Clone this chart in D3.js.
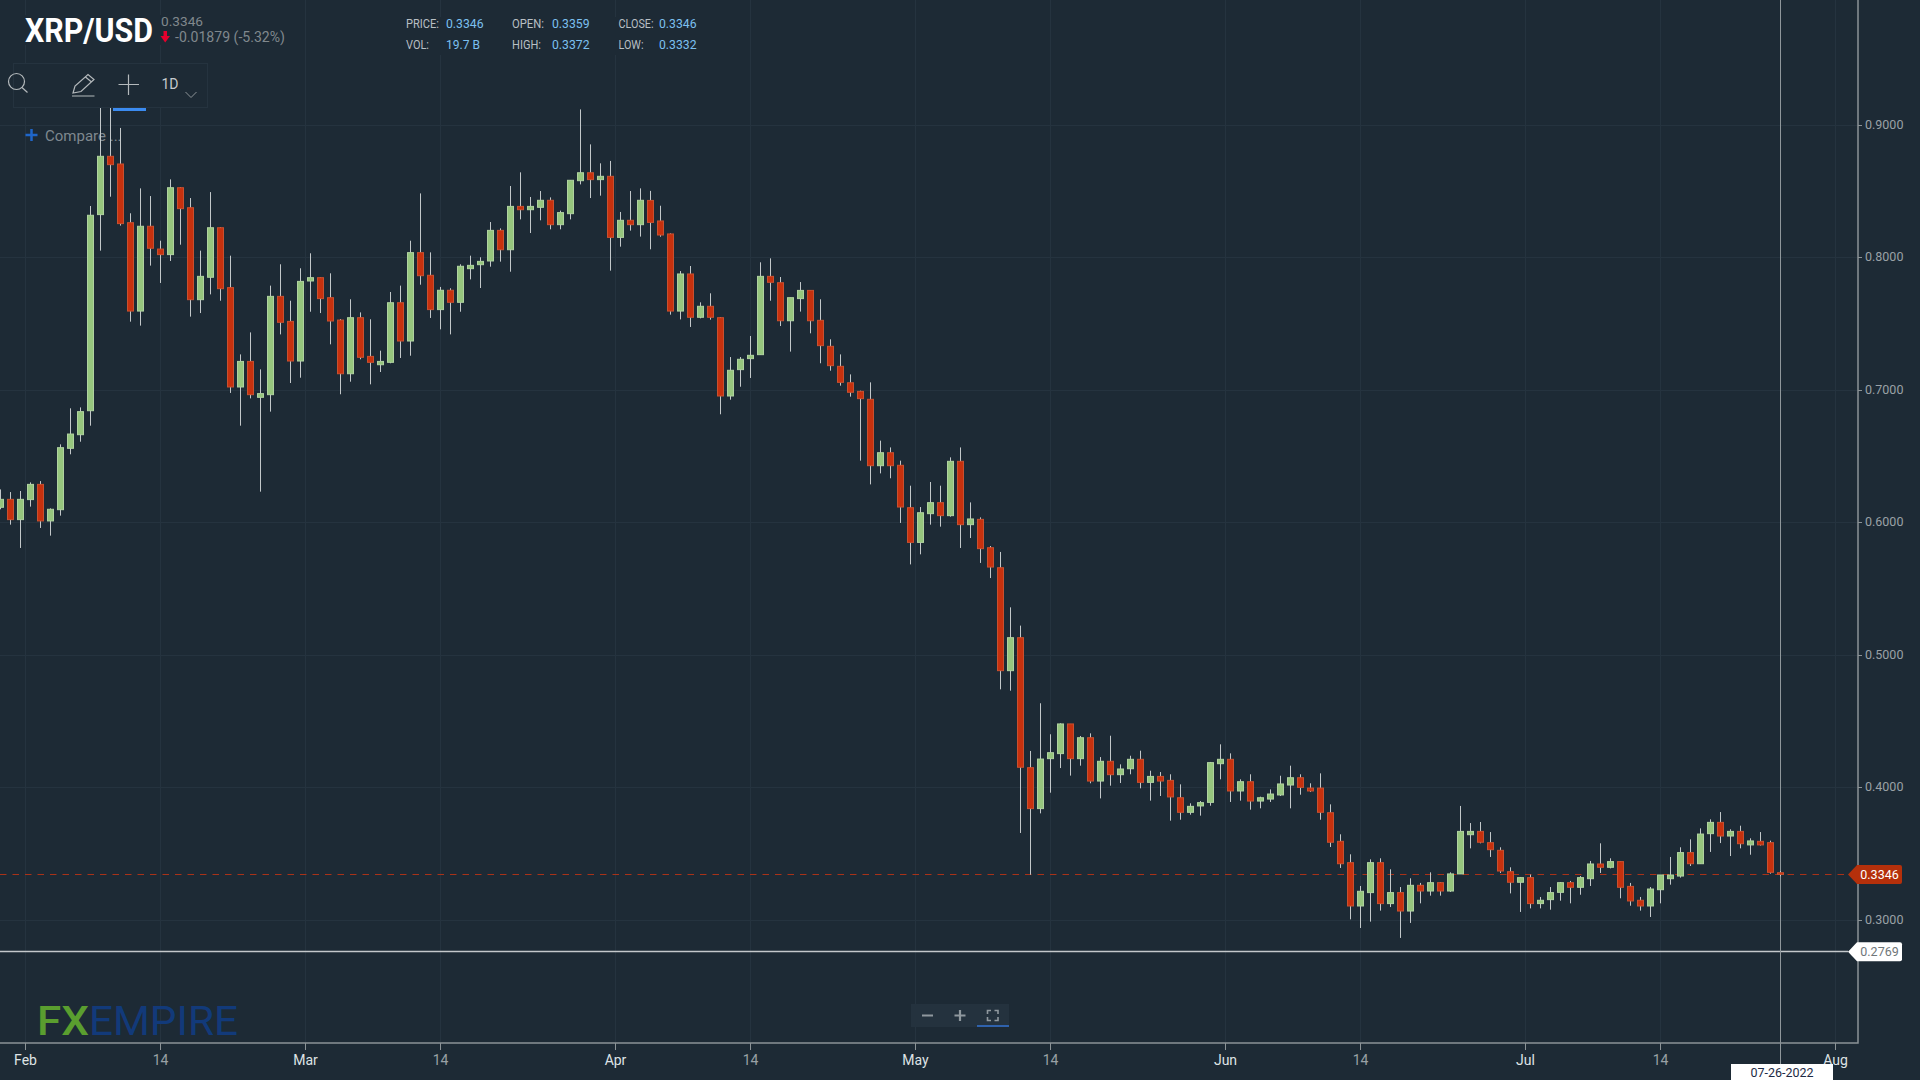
<!DOCTYPE html>
<html>
<head>
<meta charset="utf-8">
<title>XRP/USD</title>
<script src="https://cdn.jsdelivr.net/npm/d3@7"></script>
<style>
    html, body { margin: 0; padding: 0; background: #1d2a35; overflow: hidden; }
    text { font-family: Roboto, sans-serif; }
</style>
</head>
<body>
<div class="chart"></div>
<script>
// one candle a day, starting here
var firstDay = "2022-01-29";

var opens = [
    .6117,.6177,.6024,.6175,.6290,.6014,.6099,.6562,.6665,.6846,
    .8326,.8766,.8708,.8265,.7598,.8238,.8066,.8024,.8529,.8378,
    .7684,.7853,.8227,.7775,.7025,.7218,.6947,.6967,.7709,.7520,
    .7221,.7825,.7850,.7699,.7530,.7125,.7548,.7256,.7193,.7211,
    .7661,.7372,.8039,.7868,.7609,.7755,.7664,.7918,.7948,.7976,
    .8207,.8061,.8388,.8363,.8381,.8434,.8250,.8333,.8582,.8642,
    .8590,.8615,.8154,.8283,.8250,.8433,.8278,.8180,.7598,.7878,
    .7551,.7634,.7548,.6957,.7156,.7239,.7269,.7860,.7812,.7525,
    .7692,.7754,.7528,.7332,.7181,.7057,.6992,.6932,.6431,.6529,
    .6434,.6114,.5852,.6069,.6152,.6054,.6464,.5986,.6026,.5812,
    .5661,.4884,.5133,.4152,.3843,.4220,.4258,.4482,.4220,.4378,
    .4051,.4200,.4099,.4144,.4215,.4041,.4086,.4056,.3925,.3815,
    .3863,.3890,.4182,.4215,.3976,.4046,.3900,.3915,.3946,.4021,
    .4076,.3998,.3998,.3812,.3596,.3435,.3108,.3209,.3435,.3126,
    .3209,.3070,.3264,.3221,.3284,.3221,.3350,.3646,.3671,.3586,
    .3528,.3367,.3287,.3322,.3126,.3156,.3211,.3284,.3249,.3314,
    .3425,.3400,.3443,.3256,.3151,.3108,.3231,.3314,.3334,.3511,
    .3427,.3654,.3739,.3636,.3671,.3569,.3596,.3586,.3359
];
var highs = [
    .6252,.6232,.6240,.6305,.6315,.6109,.6592,.6864,.6871,.8391,
    .9146,.9158,.8980,.8336,.8524,.8466,.8129,.8592,.8534,.8451,
    .8054,.8496,.8232,.8016,.7271,.7437,.7158,.7790,.7951,.7676,
    .7921,.8034,.7853,.7883,.7538,.7687,.7588,.7536,.7299,.7742,
    .7790,.8129,.8486,.8041,.7780,.7770,.7951,.8016,.8004,.8270,
    .8222,.8542,.8645,.8459,.8504,.8456,.8356,.8585,.9120,.8856,
    .8713,.8731,.8346,.8504,.8524,.8505,.8393,.8185,.7900,.7938,
    .7664,.7732,.7553,.7251,.7251,.7410,.7966,.7996,.7855,.7699,
    .7817,.7754,.7687,.7385,.7271,.7120,.6997,.7060,.6620,.6569,
    .6469,.6280,.6119,.6308,.6280,.6494,.6569,.6154,.6041,.5825,
    .5780,.5362,.5224,.4278,.4638,.4404,.4487,.4482,.4391,.4411,
    .4232,.4393,.4177,.4242,.4280,.4129,.4119,.4102,.4026,.3883,
    .3900,.4195,.4328,.4260,.4064,.4102,.3933,.3988,.4091,.4167,
    .4102,.4034,.4109,.3875,.3649,.3498,.3259,.3460,.3468,.3385,
    .3251,.3317,.3282,.3362,.3289,.3362,.3863,.3734,.3742,.3666,
    .3551,.3400,.3327,.3345,.3176,.3251,.3289,.3297,.3334,.3448,
    .3581,.3468,.3445,.3282,.3176,.3251,.3342,.3478,.3551,.3611,
    .3694,.3762,.3817,.3687,.3714,.3619,.3666,.3601,.3372
];
var lows = [
    .6102,.5986,.5810,.6122,.5961,.5903,.6054,.6517,.6612,.6733,
    .8054,.8461,.8243,.7518,.7488,.7941,.7810,.7976,.8099,.7556,
    .7583,.7724,.7676,.6980,.6733,.6939,.6235,.6839,.7422,.7055,
    .7095,.7593,.7583,.7347,.6970,.7065,.7234,.7045,.7138,.7204,
    .7244,.7261,.7797,.7546,.7460,.7422,.7593,.7837,.7772,.7933,
    .7971,.7895,.8290,.8187,.8283,.8215,.8215,.8290,.8554,.8451,
    .8469,.7903,.8084,.8205,.8160,.8064,.8159,.7571,.7535,.7478,
    .7543,.7533,.6819,.6929,.7027,.7093,.7269,.7676,.7485,.7292,
    .7594,.7430,.7204,.7148,.7035,.6952,.6469,.6290,.6373,.6336,
    .5999,.5686,.5762,.5986,.5971,.6046,.5810,.5885,.5697,.5583,
    .4743,.4733,.3659,.3344,.3807,.3963,.4149,.4092,.4167,.4034,
    .3920,.4016,.4036,.4102,.3996,.3903,.3938,.3752,.3759,.3797,
    .3790,.3865,.4064,.3893,.3903,.3835,.3845,.3893,.3938,.3845,
    .3948,.3968,.3759,.3553,.3395,.3007,.2942,.2990,.3073,.3100,
    .2867,.2980,.3128,.3186,.3186,.3214,.3350,.3543,.3581,.3478,
    .3357,.3203,.3063,.3090,.3090,.3080,.3148,.3128,.3193,.3259,
    .3357,.3392,.3166,.3110,.3073,.3025,.3128,.3269,.3322,.3410,
    .3427,.3516,.3583,.3485,.3543,.3495,.3564,.3352,.3332
];
var closes = [
    .6177,.6024,.6177,.6290,.6014,.6102,.6567,.6670,.6839,.8321,
    .8766,.8703,.8258,.7598,.8238,.8072,.8024,.8529,.8371,.7684,
    .7860,.8227,.7767,.7025,.7218,.6967,.6975,.7709,.7513,.7221,
    .7822,.7850,.7692,.7523,.7125,.7548,.7249,.7211,.7218,.7661,
    .7372,.8039,.7865,.7609,.7755,.7664,.7936,.7943,.7973,.8207,
    .8061,.8388,.8363,.8388,.8434,.8250,.8341,.8585,.8642,.8590,
    .8615,.8154,.8283,.8250,.8434,.8267,.8172,.7598,.7878,.7551,
    .7634,.7551,.6957,.7151,.7234,.7264,.7860,.7815,.7525,.7699,
    .7754,.7525,.7337,.7186,.7060,.6985,.6937,.6431,.6529,.6431,
    .6119,.5852,.6076,.6152,.6054,.6464,.5986,.6029,.5805,.5666,
    .4884,.5133,.4155,.3843,.4217,.4265,.4482,.4220,.4378,.4051,
    .4200,.4099,.4142,.4215,.4041,.4086,.4051,.3931,.3815,.3860,
    .3888,.4190,.4215,.3976,.4046,.3900,.3925,.3953,.4029,.4076,
    .4003,.3976,.3815,.3589,.3427,.3108,.3219,.3435,.3126,.3209,
    .3070,.3264,.3221,.3284,.3221,.3350,.3671,.3671,.3589,.3533,
    .3372,.3287,.3322,.3126,.3151,.3209,.3284,.3249,.3322,.3425,
    .3400,.3443,.3249,.3146,.3108,.3236,.3342,.3342,.3511,.3427,
    .3651,.3739,.3636,.3671,.3578,.3599,.3569,.3362,.3346
];

var priceTicks = [0.3, 0.4, 0.5, 0.6, 0.7, 0.8, 0.9];
var monthTicks = ["2022-02-01", "2022-03-01", "2022-04-01", "2022-05-01", "2022-06-01", "2022-07-01", "2022-08-01"];
var midTicks = ["2022-02-14", "2022-03-14", "2022-04-14", "2022-05-14", "2022-06-14", "2022-07-14"];

var lastPrice = 0.3346;
var lowLevel = 0.2769;
var lastDateLabel = "07-26-2022";

var headerRows = [
    [["PRICE:", "0.3346"], ["OPEN:", "0.3359"], ["CLOSE:", "0.3346"]],
    [["VOL:", "19.7 B"], ["HIGH:", "0.3372"], ["LOW:", "0.3332"]]
];

var bgColor = "#1d2a35";
var gridColor = "#25333f";
var axisColor = "#8b9296";
var upFill = "#96c67e";
var upStroke = "#b0d2a0";
var downFill = "#c6310e";
var downStroke = "#c9502f";
var wickColor = "#c3c8ca";

var parseDay = d3.utcParse("%Y-%m-%d");
var days = opens.map((d, i) => d3.utcDay.offset(parseDay(firstDay), i));
var candles = days.map((d, i) => ({ day: d, open: opens[i], high: highs[i], low: lows[i], close: closes[i] }));

var svgWidth = 1920;
var svgHeight = 1080;
var axisX = 1858;
var axisY = 1043;

var svg = d3.select(".chart").append("svg")
    .attr("width", svgWidth)
    .attr("height", svgHeight)
    .style("display", "block");

svg.append("rect").attr("width", svgWidth).attr("height", svgHeight).attr("fill", bgColor);

// scales
var xScale = d3.scaleUtc()
    .domain([parseDay(firstDay), parseDay("2022-08-01")])
    .range([0.67, 1840.67]);

var yScale = d3.scaleLinear()
    .domain([0.9, 0.3])
    .range([125.3, 920.3]);

// keep 1px lines sharp
var snap = v => Math.floor(v) + 0.5;
var barStep = xScale(parseDay("2022-02-02")) - xScale(parseDay("2022-02-01"));
// month ticks sit on the left edge of the day, the 14ths on the centre
var monthSet = monthTicks.map(d => +parseDay(d));
var tickX = d => snap(xScale(d) - (monthSet.includes(+d) ? barStep / 2 : 0));

var allTicks = monthTicks.concat(midTicks).map(parseDay).sort(d3.ascending);

// grid
var gridGroup = svg.append("g").attr("stroke", gridColor).attr("stroke-width", 1);

gridGroup.selectAll(".vgrid")
    .data(allTicks)
    .enter()
    .append("line")
    .attr("x1", d => tickX(d))
    .attr("x2", d => tickX(d))
    .attr("y1", 0)
    .attr("y2", axisY);

gridGroup.selectAll(".hgrid")
    .data(priceTicks)
    .enter()
    .append("line")
    .attr("x1", 0)
    .attr("x2", axisX)
    .attr("y1", d => snap(yScale(d)))
    .attr("y2", d => snap(yScale(d)));

// the two header blocks hide the grid behind them
svg.append("rect").attr("x", 25).attr("y", 15).attr("width", 262).attr("height", 30).attr("fill", bgColor);
svg.append("rect").attr("x", 400).attr("y", 17).attr("width", 300).attr("height", 38).attr("fill", bgColor);

// compare button
svg.append("path")
    .attr("d", "M25.5 135H37.5M31.5 129V141")
    .attr("stroke", "#1f66c9")
    .attr("stroke-width", 2.5);
svg.append("text")
    .attr("x", 45)
    .attr("y", 141)
    .attr("font-size", 15)
    .attr("fill", "#7f888f")
    .text("Compare ...");

// price level lines
svg.append("line")
    .attr("x1", 0)
    .attr("x2", 1848)
    .attr("y1", snap(yScale(lastPrice)))
    .attr("y2", snap(yScale(lastPrice)))
    .attr("stroke", "#a93218")
    .attr("stroke-width", 1)
    .attr("stroke-dasharray", "6.5,6");

svg.append("line")
    .attr("x1", 0)
    .attr("x2", 1848)
    .attr("y1", snap(yScale(lowLevel)) + 1)
    .attr("y2", snap(yScale(lowLevel)) + 1)
    .attr("stroke", "#c4c8cb")
    .attr("stroke-width", 1.3);

// crosshair
svg.append("line")
    .attr("x1", snap(xScale(days[days.length - 1])))
    .attr("x2", snap(xScale(days[days.length - 1])))
    .attr("y1", 0)
    .attr("y2", 1064)
    .attr("stroke", "#8f979b")
    .attr("stroke-width", 1);

// candles
var candleGroup = svg.append("g").selectAll("g")
    .data(candles)
    .enter()
    .append("g")
    .attr("transform", d => `translate(${snap(xScale(d.day))},0)`);

candleGroup.append("line")
    .attr("y1", d => yScale(d.high))
    .attr("y2", d => yScale(d.low))
    .attr("stroke", wickColor)
    .attr("stroke-width", 1);

candleGroup.append("rect")
    .attr("x", -3)
    .attr("width", 6)
    .attr("y", d => yScale(Math.max(d.open, d.close)))
    .attr("height", d => Math.abs(yScale(d.open) - yScale(d.close)))
    .attr("fill", d => d.close > d.open ? upFill : downFill)
    .attr("stroke", d => d.close > d.open ? upStroke : downStroke)
    .attr("stroke-width", 1);

// y axis
var rightAxis = d3.axisRight(yScale)
    .tickValues(priceTicks)
    .tickFormat(d3.format(".4f"))
    .tickSize(4)
    .tickPadding(3)
    .offset(0);

var yAxisGroup = svg.append("g")
    .attr("transform", `translate(${axisX},0)`)
    .call(rightAxis);

yAxisGroup.select(".domain").remove();
yAxisGroup.selectAll(".tick").attr("transform", d => `translate(0,${snap(yScale(d))})`);
yAxisGroup.selectAll("line").attr("stroke", axisColor);
yAxisGroup.selectAll("text")
    .attr("fill", "#9aa1a6")
    .attr("font-size", 12.5)
    .attr("dy", "0.28em")
    .style("font-family", "Roboto, sans-serif");

// x axis
var bottomAxis = d3.axisBottom(xScale)
    .tickValues(allTicks)
    .tickFormat(d => monthSet.includes(+d) ? d3.utcFormat("%b")(d) : "14")
    .tickSize(7)
    .tickPadding(5)
    .offset(0);

var xAxisGroup = svg.append("g")
    .attr("transform", `translate(0,${axisY})`)
    .call(bottomAxis);

xAxisGroup.select(".domain").remove();
xAxisGroup.selectAll(".tick").attr("transform", d => `translate(${tickX(d)},0)`);
xAxisGroup.selectAll("line").attr("stroke", axisColor);
xAxisGroup.selectAll("text")
    .attr("fill", d => monthSet.includes(+d) ? "#dfe3e5" : "#9aa1a6")
    .attr("font-size", 14)
    .style("font-family", "Roboto, sans-serif");

// axis frame
svg.append("path")
    .attr("d", `M${axisX} 0V${axisY}H0`)
    .attr("fill", "none")
    .attr("stroke", axisColor)
    .attr("stroke-width", 1.5);

// price tags on the right
function priceTag(value, fill, color, nudge) {
    var y = yScale(value) + nudge;
    svg.append("path")
        .attr("d", `M1848 ${y}L1857 ${y - 9.5}H1900Q1902 ${y - 9.5} 1902 ${y - 7.5}V${y + 7.5}Q1902 ${y + 9.5} 1900 ${y + 9.5}H1857Z`)
        .attr("fill", fill);
    svg.append("text")
        .attr("x", 1879.5)
        .attr("y", y + 4.5)
        .attr("text-anchor", "middle")
        .attr("font-size", 12.5)
        .attr("fill", color)
        .text(d3.format(".4f")(value));
}
priceTag(lastPrice, "#b5300b", "#ffffff", 0);
priceTag(lowLevel, "#ffffff", "#6f7679", 0.8);

// date label under the crosshair
svg.append("rect")
    .attr("x", 1731)
    .attr("y", 1064)
    .attr("width", 102)
    .attr("height", 16)
    .attr("fill", "#ffffff");
svg.append("text")
    .attr("x", 1782)
    .attr("y", 1076.5)
    .attr("text-anchor", "middle")
    .attr("font-size", 12.5)
    .attr("fill", "#1d2a45")
    .text(lastDateLabel);

// title block
function squeezed(x, y, str, width, size, color, weight) {
    return svg.append("text")
        .attr("x", x)
        .attr("y", y)
        .attr("font-size", size)
        .attr("font-weight", weight || 400)
        .attr("fill", color)
        .attr("textLength", width)
        .attr("lengthAdjust", "spacingAndGlyphs")
        .text(str);
}

squeezed(25, 42, "XRP/USD", 128, 33, "#ffffff", 700);
squeezed(161, 25.5, "0.3346", 42, 13.5, "#80888d");
squeezed(175, 41.5, "-0.01879 (-5.32%)", 110, 14, "#80888d");
svg.append("path")
    .attr("d", "M163.5 31H167V36H170L165.2 42.5L160.5 36H163.5Z")
    .attr("fill", "#e6002d");

// price / open / close block
var headerX = [[406, 446], [512, 552], [618.5, 659]];
var headerY = [28, 48.5];
var labelW = { "PRICE:": 33, "OPEN:": 32, "CLOSE:": 35, "VOL:": 23, "HIGH:": 29, "LOW:": 25 };
headerRows.forEach((row, r) => {
    row.forEach((cell, c) => {
        squeezed(headerX[c][0], headerY[r], cell[0], labelW[cell[0]], 13.5, "#b8bfc4");
        squeezed(headerX[c][1], headerY[r], cell[1], cell[1] === "19.7 B" ? 34 : 37.5, 13.5, "#7cc0f0");
    });
});

// toolbar
svg.append("rect")
    .attr("x", 13.5)
    .attr("y", 63.5)
    .attr("width", 194)
    .attr("height", 44)
    .attr("fill", bgColor)
    .attr("stroke", "#25333f");

var toolColor = "#b4b9bc";
svg.append("circle")
    .attr("cx", 16.5)
    .attr("cy", 81.5)
    .attr("r", 8)
    .attr("fill", "none")
    .attr("stroke", toolColor)
    .attr("stroke-width", 1.2);
svg.append("path")
    .attr("d", "M22 87.5L27.5 92.5")
    .attr("stroke", toolColor)
    .attr("stroke-width", 1.2);
// pencil
svg.append("path")
    .attr("d", "M73 93L75 86L88 74.5L94 79.5L81 91.5ZM85.5 77L91.5 82M72 96H94.5")
    .attr("fill", "none")
    .attr("stroke", toolColor)
    .attr("stroke-width", 1.2);
// crosshair tool
svg.append("path")
    .attr("d", "M118.5 84.5H139M128.5 74.5V95")
    .attr("stroke", toolColor)
    .attr("stroke-width", 1.2);
svg.append("text")
    .attr("x", 161.5)
    .attr("y", 89)
    .attr("font-size", 14)
    .attr("fill", "#c6cbce")
    .text("1D");
svg.append("path")
    .attr("d", "M185.5 92L191 97.5L196.5 92")
    .attr("fill", "none")
    .attr("stroke", "#8d9498")
    .attr("stroke-width", 1);
svg.append("rect")
    .attr("x", 113)
    .attr("y", 108)
    .attr("width", 33)
    .attr("height", 3)
    .attr("fill", "#3b8bf0");

// logo
squeezed(37, 1034.5, "FX", 52, 40, "#5a9e2f", 500);
squeezed(89, 1034.5, "EMPIRE", 149, 40, "#123a7a", 400);

// zoom widget
svg.append("rect")
    .attr("x", 911)
    .attr("y", 1004)
    .attr("width", 98)
    .attr("height", 23)
    .attr("fill", "#24323e");
svg.append("rect")
    .attr("x", 977)
    .attr("y", 1025)
    .attr("width", 32)
    .attr("height", 2)
    .attr("fill", "#2f62ad");
svg.append("path")
    .attr("d", "M922 1015.5H933M954.5 1015.5H965.5M960 1010V1021")
    .attr("stroke", "#8f989e")
    .attr("stroke-width", 2.2);
svg.append("path")
    .attr("d", "M987.5 1014V1010.5H991M994.5 1010.5H998V1014M998 1017V1020.5H994.5M991 1020.5H987.5V1017")
    .attr("fill", "none")
    .attr("stroke", "#8f989e")
    .attr("stroke-width", 1.6);
</script>
</body>
</html>
